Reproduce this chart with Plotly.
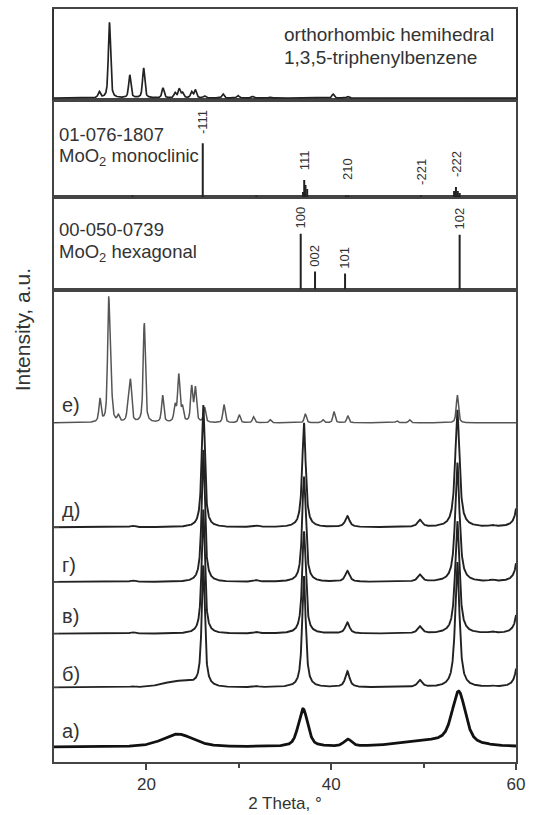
import numpy as np
import plotly.graph_objects as go

# ---------------- data ----------------
# 1,3,5-triphenylbenzene (orthorhombic hemihedral), reference pattern
tpb_pos = [14.9, 16.0, 18.2, 19.7, 21.8, 23.1, 23.55, 23.9, 24.9, 25.3, 26.3, 28.3, 29.9, 31.5, 33.3, 40.2, 41.8]
tpb_int = [6, 76, 23, 30, 10, 5, 9, 5, 6, 8, 2, 4, 2.5, 1.5, 1, 4, 1.5]

# MoO2 monoclinic, card 01-076-1807
mono_pos = [18.5, 26.1, 31.9, 36.95, 37.08, 37.22, 37.4, 41.6, 41.85, 49.7, 53.3, 53.5, 53.7, 53.9]
mono_int = [1.5, 54, 1.5, 5, 17, 12, 8, 1.5, 1.5, 1.5, 6, 10, 6, 4]
mono_hkl = ["-111", "111", "210", "-221", "-222"]
mono_hkl_pos = [26.1, 37.08, 41.7, 49.7, 53.5]
mono_hkl_base = [57, 21, 11, 6, 14]

# MoO2 hexagonal, card 00-050-0739
hex_pos = [36.7, 38.25, 41.5, 53.9]
hex_int = [56, 18, 16, 55]
hex_hkl = ["100", "002", "101", "102"]

# measured patterns: peak positions, heights, widths
e_pos = [14.98, 15.92, 16.15, 16.96, 18.05, 18.28, 19.77, 21.76, 23.1, 23.5, 23.9, 24.9, 25.3,
         26.3, 28.4, 30.05, 31.6, 33.4, 37.2, 39.1, 40.3, 41.8, 47.1, 48.5, 53.65]
e_int = [23, 118, 38, 6, 22, 38, 100, 27, 16, 47, 14, 35, 34, 15, 18, 8, 6, 3, 9, 3, 11, 7, 2, 3, 28]
e_wid = [0.28] * len(e_pos)

moo2_pos = [18.5, 26.15, 31.9, 37.05, 41.75, 49.6, 53.65, 57.4, 60.45]
moo2_wid = [0.6, 0.4, 0.6, 0.45, 0.55, 0.6, 0.55, 0.6, 0.45]
d_int = [1.5, 123, 1.5, 105, 11, 7, 118, 1.5, 100]
g_int = [1.5, 133, 1.5, 106, 11, 7, 120, 1.5, 100]
v_int = [1.5, 125, 1.5, 103, 11, 7, 113, 1.5, 100]
b_int = [1.0, 121, 1.0, 112, 16, 7, 126, 1.0, 100]
b_hump = ([23.5], [6], [4.0])  # broad amorphous hump in б)

a_pos = [23.4, 36.95, 41.8, 51.0, 53.8]
a_int = [13, 38, 7, 6, 52]
a_wid = [4.0, 1.2, 1.0, 8.0, 1.7]

# vertical offsets of the stacked patterns in the lower panel
offsets = {"е)": 341, "д)": 236, "г)": 181, "в)": 129, "б)": 75, "а)": 15}

# --------------- profiles ---------------
tt = np.arange(10.0, 60.0001, 0.02)


def profile(pos, hts, wid, eta=0.7):
    y = np.zeros_like(tt)
    for p, h, w in zip(pos, hts, wid):
        u = (tt - p) / (w / 2.0)
        y += h * (eta / (1.0 + u ** 2) + (1 - eta) * np.exp(-np.log(2) * u ** 2))
    return y


def sticks(pos, hts):
    xs, ys = [], []
    for p, h in zip(pos, hts):
        xs += [p, p, None]
        ys += [0, h, None]
    return xs, ys


LINE = "#222222"
TXT = "#333333"
FONT = "Liberation Sans, Arial, sans-serif"

fig = go.Figure()

# top panel: reference pattern of 1,3,5-triphenylbenzene
fig.add_trace(go.Scatter(x=tt, y=1.5 + profile(tpb_pos, tpb_int, [0.28] * len(tpb_pos), 0.6),
                         mode="lines", line=dict(color=LINE, width=1.7),
                         xaxis="x4", yaxis="y4", showlegend=False))

# monoclinic sticks
xs, ys = sticks(mono_pos, mono_int)
fig.add_trace(go.Scatter(x=xs, y=ys, mode="lines", line=dict(color=LINE, width=2),
                         xaxis="x3", yaxis="y3", showlegend=False))

# hexagonal sticks
xs, ys = sticks(hex_pos, hex_int)
fig.add_trace(go.Scatter(x=xs, y=ys, mode="lines", line=dict(color=LINE, width=2),
                         xaxis="x2", yaxis="y2", showlegend=False))

# measured patterns
curves = [
    ("е)", profile(e_pos, e_int, e_wid, 0.6), "#555555", 1.5),
    ("д)", profile(moo2_pos, d_int, moo2_wid, 0.9), LINE, 1.9),
    ("г)", profile(moo2_pos, g_int, moo2_wid, 0.9), LINE, 1.9),
    ("в)", profile(moo2_pos, v_int, moo2_wid, 0.9), LINE, 1.9),
    ("б)", profile(moo2_pos, b_int, moo2_wid, 0.9) + profile(*b_hump, 0.0), LINE, 1.9),
    ("а)", profile(a_pos, a_int, a_wid, 0.5), "#111111", 2.8),
]
for name, y, col, w in curves:
    fig.add_trace(go.Scatter(x=tt, y=offsets[name] + y, mode="lines",
                             line=dict(color=col, width=w), name=name,
                             xaxis="x", yaxis="y", showlegend=False))

# --------------- layout ---------------
W, H = 537, 815
L, R, T, B = 54, 21, 7, 51
PW, PH = W - L - R, H - T - B
bottom_px = H - B


def dom(y_top, y_bot):
    return [(bottom_px - y_bot) / PH, (bottom_px - y_top) / PH]


def px(x, y):
    return (x - L) / PW, (bottom_px - y) / PH


frame = dict(showline=True, mirror=True, linecolor="#444444", linewidth=1.5,
             showgrid=False, zeroline=False)

fig.update_layout(
    width=W, height=H, margin=dict(l=L, r=R, t=T, b=B),
    paper_bgcolor="white", plot_bgcolor="white",
    font=dict(family=FONT, color=TXT),
    xaxis=dict(range=[10, 60], domain=[0, 1], anchor="y", ticks="outside",
               tickvals=[20, 40, 60], ticklen=6, tickwidth=1.5, tickcolor="#444444",
               minor=dict(tickvals=[30, 50], ticks="outside", ticklen=4, tickcolor="#444444"),
               tickfont=dict(size=17, color=TXT),
               title=dict(text="2 Theta, °", font=dict(size=17, color=TXT), standoff=2),
               **frame),
    yaxis=dict(range=[0, 475], domain=dom(289, 764), anchor="x", ticks="inside",
               tickvals=[offsets[k] for k in ["е)", "д)", "г)", "в)", "б)"]],
               ticklen=5, tickcolor="#444444", showticklabels=False, **frame),
    xaxis2=dict(range=[10, 60], matches="x", anchor="y2", showticklabels=False, **frame),
    yaxis2=dict(range=[0, 93], domain=dom(196, 289), anchor="x2", showticklabels=False, **frame),
    xaxis3=dict(range=[10, 60], matches="x", anchor="y3", showticklabels=False, **frame),
    yaxis3=dict(range=[0, 98], domain=dom(98, 196), anchor="x3", showticklabels=False, **frame),
    xaxis4=dict(range=[10, 60], matches="x", anchor="y4", showticklabels=False, **frame),
    yaxis4=dict(range=[0, 91], domain=dom(7, 98), anchor="x4", showticklabels=False,
                showline=True, mirror=True, linecolor="#333333", linewidth=2,
                showgrid=False, zeroline=False),
)

ann = []


def text_px(x, y, s, size, anchor="left"):
    xp, yp = px(x, y)
    ann.append(dict(x=xp, y=yp, xref="paper", yref="paper", text=s, showarrow=False,
                    xanchor=anchor, yanchor="middle", font=dict(size=size, color=TXT)))


text_px(282, 33, "orthorhombic hemihedral", 19)
text_px(282, 56, "1,3,5-triphenylbenzene", 19)
text_px(57, 133, "01-076-1807", 18.5)
text_px(57, 156, "MoO<sub>2</sub> monoclinic", 18.5)
text_px(57, 229, "00-050-0739", 18.5)
text_px(57, 252, "MoO<sub>2</sub> hexagonal", 18.5)

label_y = {"е)": 405, "д)": 511, "г)": 566, "в)": 617, "б)": 676, "а)": 733}
for k, yy in label_y.items():
    text_px(60, yy, k, 20)

# Miller indices above the sticks
for s, p, h in zip(mono_hkl, mono_hkl_pos, mono_hkl_base):
    ann.append(dict(x=p, y=h + 4, xref="x3", yref="y3", text=s, showarrow=False,
                    textangle=-90, xanchor="center", yanchor="bottom",
                    font=dict(size=13, color=TXT)))
for s, p, h in zip(hex_hkl, hex_pos, hex_int):
    ann.append(dict(x=p, y=h + 3, xref="x2", yref="y2", text=s, showarrow=False,
                    textangle=-90, xanchor="center", yanchor="bottom",
                    font=dict(size=13, color=TXT)))

# y-axis title
xp, yp = px(22, 330)
ann.append(dict(x=xp, y=yp, xref="paper", yref="paper", text="Intensity, a.u.",
                showarrow=False, textangle=-90, xanchor="center", yanchor="middle",
                font=dict(size=21, color=TXT)))

fig.update_layout(annotations=ann)
fig.write_html("out.html")
